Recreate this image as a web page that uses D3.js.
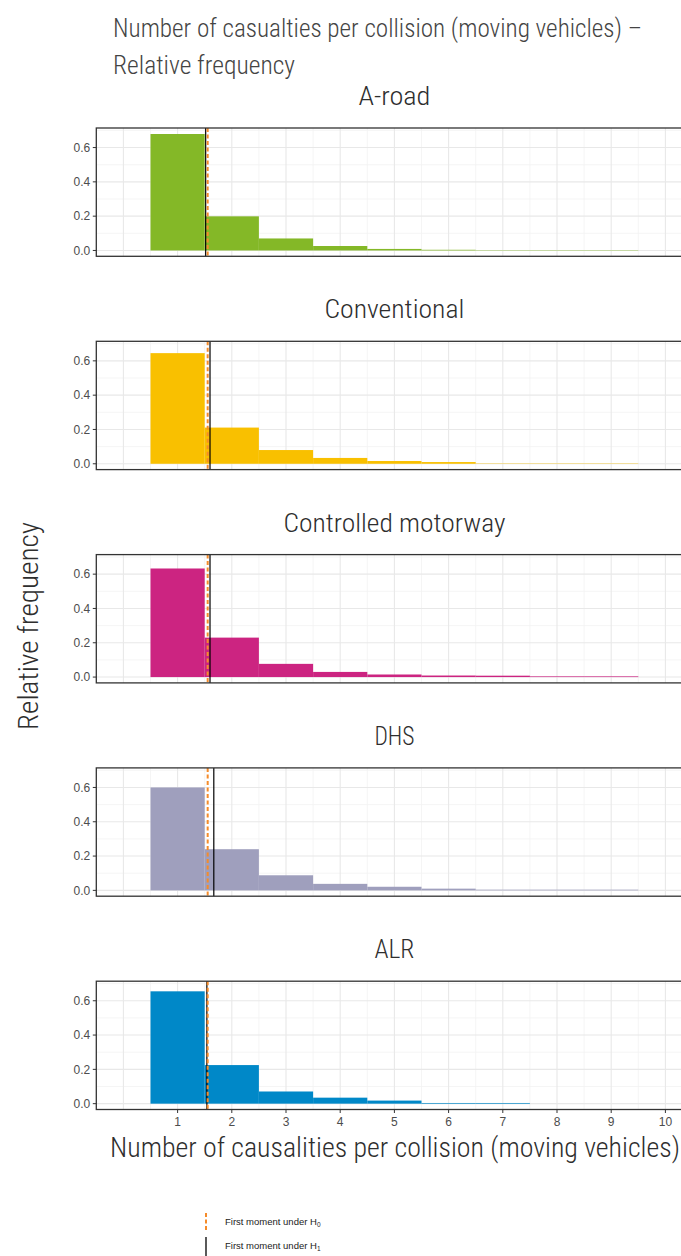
<!DOCTYPE html>
<html>
<head>
<meta charset="utf-8">
<script src="https://cdn.jsdelivr.net/npm/d3@7"></script>
<style>
  body { margin: 0; background: #fff; }
  svg { display: block; }
  .cond { font-family: 'Liberation Sans Narrow', 'Roboto Condensed', Roboto, sans-serif; font-weight: 300; }
  .tick-label { font-family: 'Liberation Sans', Arial, sans-serif; font-size: 12px; fill: #4d4d4d; }
</style>
</head>
<body>
<div id="chart"></div>
<script>
// panels and bins
const panelNames = ["A-road", "Conventional", "Controlled motorway", "DHS", "ALR"];
const panelColors = ["#84b827", "#f9c000", "#cc2481", "#9f9fbd", "#0088c8"];
const bins = [1, 2, 3, 4, 5, 6, 7, 8, 9];

// relative frequency per bin
const aRoad = [0.679, 0.199, 0.070, 0.026, 0.009, 0.004, 0.002, 0.002, 0.002];
const conventional = [0.645, 0.211, 0.080, 0.034, 0.016, 0.010, 0.002, 0.002, 0.002];
const controlled = [0.633, 0.230, 0.077, 0.030, 0.015, 0.009, 0.008, 0.004, 0.004];
const dhs = [0.600, 0.240, 0.088, 0.038, 0.021, 0.010, 0.004, 0.004, 0.004];
const alr = [0.655, 0.225, 0.071, 0.035, 0.018, 0.004, 0.004, 0, 0];
const panelValues = [aRoad, conventional, controlled, dhs, alr];

// first moments
const momentH0 = [1.555, 1.555, 1.555, 1.555, 1.555];
const momentH1 = [1.518, 1.598, 1.598, 1.668, 1.540];

const xTicks = [1, 2, 3, 4, 5, 6, 7, 8, 9, 10];
const xMajorGrid = [0, 1, 2, 3, 4, 5, 6, 7, 8, 9, 10];
const xMinorGrid = [0.5, 1.5, 2.5, 3.5, 4.5, 5.5, 6.5, 7.5, 8.5, 9.5];
const yTicks = [0, 0.2, 0.4, 0.6];
const yMinorGrid = [0.1, 0.3, 0.5, 0.7];

const W = 681, H = 1256;
const panelLeft = 96.3, panelRight = 692.5;
const panelTop0 = 128, panelStep = 213.3, panelH = 128.3;
const orange = '#f58b2a';

const svg = d3.select('#chart').append('svg')
    .attr('width', W)
    .attr('height', H);

const x = d3.scaleLinear()
    .domain([-0.5, 10.5])
    .range([panelLeft, panelRight]);

const y = d3.scaleLinear()
    .domain([-0.034, 0.714])
    .range([panelH, 0]);

// main title
svg.append('text').attr('class', 'cond')
    .attr('x', 113).attr('y', 37)
    .attr('font-size', 25).attr('fill', '#444')
    .attr('textLength', 529).attr('lengthAdjust', 'spacingAndGlyphs')
    .text('Number of casualties per collision (moving vehicles) \u2013');
svg.append('text').attr('class', 'cond')
    .attr('x', 113).attr('y', 74)
    .attr('font-size', 25).attr('fill', '#444')
    .attr('textLength', 182).attr('lengthAdjust', 'spacingAndGlyphs')
    .text('Relative frequency');

const titleWidths = [72, 140, 222, 40, 40];

panelNames.forEach((name, i) => {
    const top = panelTop0 + i * panelStep;
    const g = svg.append('g').attr('transform', `translate(0,${top})`);
    const vals = panelValues[i];

    g.append('text').attr('class', 'cond')
        .attr('x', (panelLeft + panelRight) / 2).attr('y', -23)
        .attr('text-anchor', 'middle')
        .attr('font-size', 25).attr('fill', '#2e2e2e')
        .attr('textLength', titleWidths[i]).attr('lengthAdjust', 'spacingAndGlyphs')
        .text(name);

    // grid
    g.selectAll('line.xminor').data(xMinorGrid).enter().append('line')
        .attr('x1', d => x(d)).attr('x2', d => x(d))
        .attr('y1', 0).attr('y2', panelH)
        .attr('stroke', '#f2f2f2').attr('stroke-width', 0.8);
    g.selectAll('line.yminor').data(yMinorGrid).enter().append('line')
        .attr('x1', panelLeft).attr('x2', panelRight)
        .attr('y1', d => y(d)).attr('y2', d => y(d))
        .attr('stroke', '#f2f2f2').attr('stroke-width', 0.8);
    g.selectAll('line.xmajor').data(xMajorGrid).enter().append('line')
        .attr('x1', d => x(d)).attr('x2', d => x(d))
        .attr('y1', 0).attr('y2', panelH)
        .attr('stroke', '#e8e8e8').attr('stroke-width', 1.1);
    g.selectAll('line.ymajor').data(yTicks).enter().append('line')
        .attr('x1', panelLeft).attr('x2', panelRight)
        .attr('y1', d => y(d)).attr('y2', d => y(d))
        .attr('stroke', '#e8e8e8').attr('stroke-width', 1.1);

    // bars
    g.selectAll('rect.bar').data(bins.filter((b, j) => vals[j] > 0)).enter().append('rect')
        .attr('x', b => x(b - 0.5))
        .attr('width', b => x(b + 0.5) - x(b - 0.5))
        .attr('y', b => y(vals[b - 1]))
        .attr('height', b => y(0) - y(vals[b - 1]))
        .attr('fill', panelColors[i]);

    // first moments
    g.append('line')
        .attr('x1', x(momentH1[i])).attr('x2', x(momentH1[i]))
        .attr('y1', 0).attr('y2', panelH)
        .attr('stroke', '#000').attr('stroke-width', 1.2);
    g.append('line')
        .attr('x1', x(momentH0[i])).attr('x2', x(momentH0[i]))
        .attr('y1', 0).attr('y2', panelH)
        .attr('stroke', orange).attr('stroke-width', 2)
        .attr('stroke-dasharray', '4,2.5');

    // border
    g.append('rect')
        .attr('x', panelLeft).attr('y', 0)
        .attr('width', panelRight - panelLeft).attr('height', panelH)
        .attr('fill', 'none').attr('stroke', '#333').attr('stroke-width', 1.3);

    // y axis
    const yAxis = g.append('g');
    yAxis.selectAll('line').data(yTicks).enter().append('line')
        .attr('x1', panelLeft - 3.5).attr('x2', panelLeft)
        .attr('y1', d => y(d)).attr('y2', d => y(d))
        .attr('stroke', '#333').attr('stroke-width', 1);
    yAxis.selectAll('text').data(yTicks).enter().append('text')
        .attr('class', 'tick-label')
        .attr('x', panelLeft - 6).attr('y', d => y(d))
        .attr('dy', '0.36em')
        .attr('text-anchor', 'end')
        .text(d3.format('.1f'));

    // x axis on the last panel only
    if (i === panelNames.length - 1) {
        const xAxis = g.append('g');
        xAxis.selectAll('line').data(xTicks).enter().append('line')
            .attr('x1', d => x(d)).attr('x2', d => x(d))
            .attr('y1', panelH).attr('y2', panelH + 3.5)
            .attr('stroke', '#333').attr('stroke-width', 1);
        xAxis.selectAll('text').data(xTicks).enter().append('text')
            .attr('class', 'tick-label')
            .attr('x', d => x(d)).attr('y', panelH + 17)
            .attr('text-anchor', 'middle')
            .text(d => d);
    }
});

// axis titles
svg.append('text').attr('class', 'cond')
    .attr('transform', 'translate(38,626) rotate(-90)')
    .attr('text-anchor', 'middle')
    .attr('font-size', 27).attr('fill', '#2e2e2e')
    .attr('textLength', 208).attr('lengthAdjust', 'spacingAndGlyphs')
    .text('Relative frequency');
svg.append('text').attr('class', 'cond')
    .attr('x', 110).attr('y', 1157)
    .attr('font-size', 27).attr('fill', '#2e2e2e')
    .attr('textLength', 570).attr('lengthAdjust', 'spacingAndGlyphs')
    .text('Number of causalities per collision (moving vehicles)');

// legend
const legendItems = [
    { sub: '0', stroke: orange, dash: '4,2.5', width: 2, y: 1213 },
    { sub: '1', stroke: '#000', dash: null, width: 1.3, y: 1237 }
];
const legend = svg.append('g');
legendItems.forEach(it => {
    legend.append('line')
        .attr('x1', 206).attr('x2', 206)
        .attr('y1', it.y).attr('y2', it.y + 19)
        .attr('stroke', it.stroke).attr('stroke-width', it.width)
        .attr('stroke-dasharray', it.dash);
    const t = legend.append('text')
        .attr('x', 225).attr('y', it.y + 12)
        .attr('font-family', "'Liberation Sans', Arial, sans-serif")
        .attr('font-size', 9.5).attr('fill', '#222');
    t.append('tspan').text('First moment under H');
    t.append('tspan').attr('font-size', 6.5).attr('dy', 2).text(it.sub);
});
</script>
</body>
</html>
